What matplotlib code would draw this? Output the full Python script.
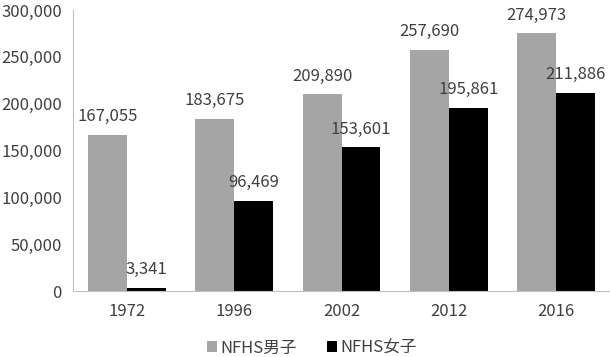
import matplotlib.pyplot as plt
import numpy as np
from matplotlib.ticker import FuncFormatter

plt.rcParams['font.family'] = ['Noto Sans CJK JP', 'DejaVu Sans']

years = ['1972', '1996', '2002', '2012', '2016']
boys = [167055, 183675, 209890, 257690, 274973]
girls = [3341, 96469, 153601, 195861, 211886]

fig = plt.figure(figsize=(6.1, 3.57), dpi=100)
ax = fig.add_axes([73 / 610, 66 / 357, 537 / 610, 281 / 357])

x = np.arange(len(years))
w = 0.363
b1 = ax.bar(x - w / 2, boys, w, color='#A5A5A5', label='NFHS男子')
b2 = ax.bar(x + w / 2, girls, w, color='black', label='NFHS女子')

for bars, vals in ((b1, boys), (b2, girls)):
    for r, v in zip(bars, vals):
        ax.annotate(f'{v:,}', (r.get_x() + r.get_width() / 2, v), xytext=(0, 13),
                    textcoords='offset points', ha='center', va='center',
                    fontsize=12, color='#404040')

ax.set_ylim(0, 300000)
ax.set_yticks(np.arange(0, 300001, 50000))
ax.yaxis.set_major_formatter(FuncFormatter(lambda v, p: f'{int(v):,}'))
ax.set_xlim(-0.5, 4.5)
ax.set_xticks(x)
ax.set_xticklabels(years)
ax.tick_params(length=0, labelsize=12, labelcolor='#404040')
ax.tick_params(axis='x', pad=9)
ax.tick_params(axis='y', pad=8)

for s in ('top', 'right'):
    ax.spines[s].set_visible(False)
ax.spines['left'].set_color('#BFBFBF')
ax.spines['bottom'].set_color('#BFBFBF')

ax.legend(loc='center', bbox_to_anchor=(312 / 610, 9 / 357), bbox_transform=fig.transFigure,
          ncol=2, frameon=False, fontsize=12, handlelength=0.6, handleheight=0.6,
          handletextpad=0.2, columnspacing=1.8, labelcolor='#404040')

fig.savefig('out.png', dpi=100)
